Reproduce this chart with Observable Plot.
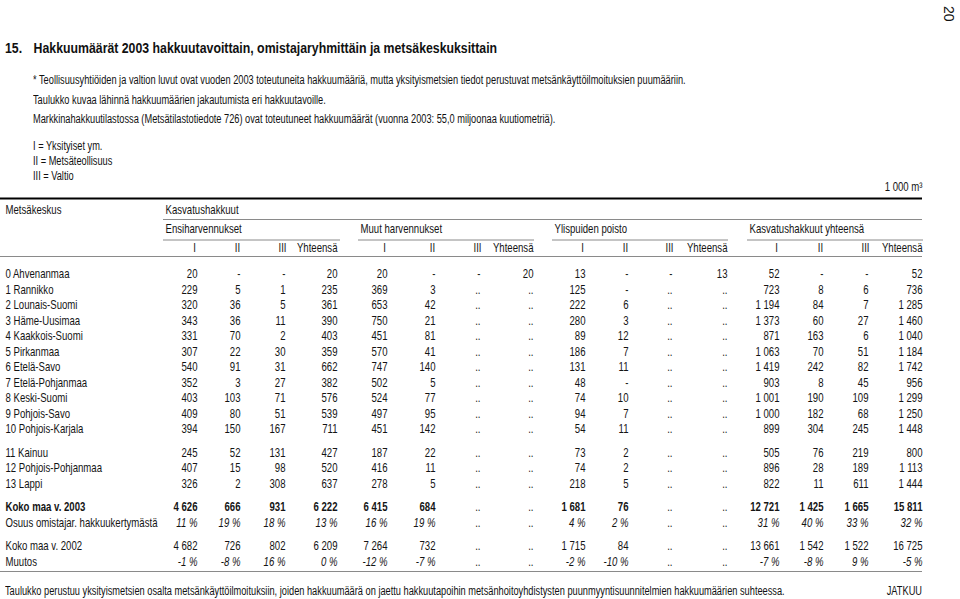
<!DOCTYPE html>
<html><head><meta charset="utf-8">
<script src="https://cdn.jsdelivr.net/npm/d3@7"></script>
<script src="https://cdn.jsdelivr.net/npm/@observablehq/plot@0.6"></script>
<style>
body{margin:0;background:#fff;}
#wrap{position:relative;width:960px;height:599px;overflow:hidden;background:#fff;color:#111;
 font-family:'Liberation Sans Narrow','Arial Narrow','Liberation Sans',Arial,sans-serif;}
.t{position:absolute;white-space:nowrap;line-height:14px;font-size:12px;transform:scaleX(0.77);transform-origin:left center;z-index:2;}
.r{transform-origin:right center;}
#chart{position:absolute;left:0;top:178px;z-index:1;}
</style></head>
<body><div id="wrap">
<div class="t" style="left:956px;top:6px;font-size:14px;transform:rotate(90deg);transform-origin:left top;">20</div>
<div class="t" style="left:5px;top:39px;font-size:15px;font-weight:bold;line-height:17px;transform:scaleX(0.82);">15.<span style="display:inline-block;width:14px"></span>Hakkuumäärät 2003 hakkuutavoittain, omistajaryhmittäin ja metsäkeskuksittain</div>
<div class="t" style="left:33px;top:73px;">* Teollisuusyhtiöiden ja valtion luvut ovat vuoden 2003 toteutuneita hakkuumääriä, mutta yksityismetsien tiedot perustuvat metsänkäyttöilmoituksien puumääriin.</div>
<div class="t" style="left:33px;top:93px;">Taulukko kuvaa lähinnä hakkuumäärien jakautumista eri hakkuutavoille.</div>
<div class="t" style="left:33px;top:112px;">Markkinahakkuutilastossa (Metsätilastotiedote 726) ovat toteutuneet hakkuumäärät (vuonna 2003: 55,0 miljoonaa kuutiometriä).</div>
<div class="t" style="left:33px;top:139px;">I = Yksityiset ym.</div>
<div class="t" style="left:33px;top:154px;">II = Metsäteollisuus</div>
<div class="t" style="left:33px;top:169px;">III = Valtio</div>
<div id="chart"></div>
<div class="t" style="left:5px;top:584px;">Taulukko perustuu yksityismetsien osalta metsänkäyttöilmoituksiin, joiden hakkuumäärä on jaettu hakkuutapoihin metsänhoitoyhdistysten puunmyyntisuunnitelmien hakkuumäärien suhteessa.</div>
<div class="t r" style="left:862px;top:584px;width:60px;text-align:right;">JATKUU</div>
</div>
<script>
// ---- data (0 = "-", null = "..") ----
const regions = ["0 Ahvenanmaa","1 Rannikko","2 Lounais-Suomi","3 Häme-Uusimaa","4 Kaakkois-Suomi","5 Pirkanmaa","6 Etelä-Savo","7 Etelä-Pohjanmaa","8 Keski-Suomi","9 Pohjois-Savo","10 Pohjois-Karjala","11 Kainuu","12 Pohjois-Pohjanmaa","13 Lappi"];
const ensiI   = [20,229,320,343,331,307,540,352,403,409,394,245,407,326];
const ensiII  = [0,5,36,36,70,22,91,3,103,80,150,52,15,2];
const ensiIII = [0,1,5,11,2,30,31,27,71,51,167,131,98,308];
const ensiYht = [20,235,361,390,403,359,662,382,576,539,711,427,520,637];
const muutI   = [20,369,653,750,451,570,747,502,524,497,451,187,416,278];
const muutII  = [0,3,42,21,81,41,140,5,77,95,142,22,11,5];
const muutIII = [0,null,null,null,null,null,null,null,null,null,null,null,null,null];
const muutYht = [20,null,null,null,null,null,null,null,null,null,null,null,null,null];
const yliI    = [13,125,222,280,89,186,131,48,74,94,54,73,74,218];
const yliII   = [0,0,6,3,12,7,11,0,10,7,11,2,2,5];
const yliIII  = [0,null,null,null,null,null,null,null,null,null,null,null,null,null];
const yliYht  = [13,null,null,null,null,null,null,null,null,null,null,null,null,null];
const khI     = [52,723,1194,1373,871,1063,1419,903,1001,1000,899,505,896,822];
const khII    = [0,8,84,60,163,70,242,8,190,182,304,76,28,11];
const khIII   = [0,6,7,27,6,51,82,45,109,68,245,219,189,611];
const khYht   = [52,736,1285,1460,1040,1184,1742,956,1299,1250,1448,800,1113,1444];

const total2003Label = "Koko maa v. 2003";
const total2003 = [4626,666,931,6222,6415,684,null,null,1681,76,null,null,12721,1425,1665,15811];
const shareLabel = "Osuus omistajar. hakkuukertymästä";
const share2003 = [11,19,18,13,16,19,null,null,4,2,null,null,31,40,33,32];
const total2002Label = "Koko maa v. 2002";
const total2002 = [4682,726,802,6209,7264,732,null,null,1715,84,null,null,13661,1542,1522,16725];
const changeLabel = "Muutos";
const change2002 = [-1,-8,16,0,-12,-7,null,null,-2,-10,null,null,-7,-8,9,-5];

const groupLabels = ["Ensiharvennukset","Muut harvennukset","Ylispuiden poisto","Kasvatushakkuut yhteensä"];
const colLabels = ["I","II","III","Yhteensä"];
const topHeader = ["Metsäkeskus","Kasvatushakkuut"];
const unitLabel = "1 000 m³";

// ---- layout ----
const svgTop = 178, H = 402;
const Y = v => v - svgTop;
const colRight = [197,240,285,337, 387,435,480,533, 585,628,672,727, 779,823,868,922];
const groupStart = [163,358,552,747];
const tableRight = 922;
const rowH = 15.5, blockGap = 8, firstRow = 274;
function rowY(k, block){ return Y(firstRow + k*rowH + block*blockGap); }

const fmtN = d3.formatLocale({thousands:" ", grouping:[3], decimal:",", currency:["",""]}).format(",d");
const fmt = v => v === null ? ".." : v === 0 ? "-" : fmtN(v);
const fmtP = v => v === null ? ".." : `${v} %`;

const regionCols = [ensiI,ensiII,ensiIII,ensiYht,muutI,muutII,muutIII,muutYht,yliI,yliII,yliIII,yliYht,khI,khII,khIII,khYht];

const labels = [], cells = [], boldCells = [], italCells = [], dotCells = [], boldLabels = [];
regions.forEach((r,i) => {
  const block = i <= 10 ? 0 : 1;
  const y = rowY(i, block);
  labels.push({x:5, y, t:r});
  regionCols.forEach((col,c) => cells.push({x:colRight[c], y, t:fmt(col[i])}));
});
const summary = [
  {label: total2003Label, vals: total2003, kind:"bold", k:14, block:2},
  {label: shareLabel, vals: share2003, kind:"pct", k:15, block:2},
  {label: total2002Label, vals: total2002, kind:"num", k:16, block:3},
  {label: changeLabel, vals: change2002, kind:"pct", k:17, block:3}
];
summary.forEach(s => {
  const y = rowY(s.k, s.block);
  (s.kind === "bold" ? boldLabels : labels).push({x:5, y, t:s.label});
  s.vals.forEach((v,c) => {
    const cell = {x:colRight[c], y, t: s.kind === "pct" ? fmtP(v) : fmt(v)};
    if (v === null) dotCells.push(cell);
    else if (s.kind === "bold") boldCells.push(cell);
    else if (s.kind === "pct") italCells.push(cell);
    else cells.push(cell);
  });
});

const headerCells = [];
groupLabels.forEach((g,gi) => colLabels.forEach((l,li) => {
  const c = gi*4+li;
  headerCells.push({x: li === 3 ? colRight[c] : colRight[c]-3, y: Y(248), t:l, anchor: li===3 ? "end":"middle"});
}));
const groupCells = groupLabels.map((g,gi) => ({x:groupStart[gi]+2, y:Y(229), t:g, x1:groupStart[gi], x2:colRight[gi*4+3]+(gi===0?3:1), ly:Y(239.5)}));
const singles = [
  {x:tableRight, y:Y(187), t:unitLabel, a:"end"},
  {x:5, y:Y(210), t:topHeader[0], a:"start"},
  {x:groupStart[0]+2, y:Y(210), t:topHeader[1], a:"start"}
];

const ink = "#141414";
const chart = Plot.plot({
  width: 960, height: H, margin: 0,
  x: {type:"identity", axis:null}, y: {type:"identity", axis:null},
  style: {fontFamily:"'Liberation Sans Narrow','Arial Narrow','Liberation Sans',Arial,sans-serif", fontSize:"12px", background:"transparent", overflow:"visible"},
  marks: [
    Plot.ruleY([Y(198)], {x1:0, x2:tableRight, stroke:"#000", strokeWidth:2}),
    Plot.ruleY([Y(219)], {x1:groupStart[0], x2:tableRight, stroke:"#8a8a8a", strokeWidth:1}),
    Plot.ruleY(groupCells, {y:"ly", x1:"x1", x2:"x2", stroke:"#8a8a8a", strokeWidth:1}),
    Plot.ruleY([Y(256)], {x1:0, x2:tableRight, stroke:"#8a8a8a", strokeWidth:1}),
    Plot.ruleY([Y(571)], {x1:0, x2:tableRight, stroke:"#8a8a8a", strokeWidth:1}),
    Plot.text(singles.filter(d=>d.a==="end"), {x:"x", y:"y", text:"t", textAnchor:"end", fill:ink}),
    Plot.text(singles.filter(d=>d.a==="start"), {x:"x", y:"y", text:"t", textAnchor:"start", fill:ink}),
    Plot.text(groupCells, {x:"x", y:"y", text:"t", textAnchor:"start", fill:ink}),
    Plot.text(headerCells.filter(d=>d.anchor==="middle"), {x:"x", y:"y", text:"t", textAnchor:"middle", fill:ink}),
    Plot.text(headerCells.filter(d=>d.anchor==="end"), {x:"x", y:"y", text:"t", textAnchor:"end", fill:ink}),
    Plot.text(labels, {x:"x", y:"y", text:"t", textAnchor:"start", fill:ink}),
    Plot.text(boldLabels, {x:"x", y:"y", text:"t", textAnchor:"start", fill:ink, fontWeight:"bold"}),
    Plot.text(cells, {x:"x", y:"y", text:"t", textAnchor:"end", fill:ink}),
    Plot.text(dotCells, {x:"x", y:"y", text:"t", textAnchor:"end", fill:ink}),
    Plot.text(boldCells, {x:"x", y:"y", text:"t", textAnchor:"end", fill:ink, fontWeight:"bold"}),
    Plot.text(italCells, {x:"x", y:"y", text:"t", textAnchor:"end", fill:ink, fontStyle:"italic"})
  ]
});
// condense glyphs horizontally (narrow typeface look), keeping each anchor in place
const isNum = s => s !== null && /^\s*-?[\d.]+(e-?\d+)?\s*$/.test(s);
chart.querySelectorAll("text").forEach(t => {
  const tr = t.getAttribute("transform") || "";
  let pre = tr;
  const xa = t.getAttribute("x");
  if (isNum(xa)) { pre = `translate(${+xa},0) ` + pre; t.removeAttribute("x"); }
  const ya = t.getAttribute("y");
  if (isNum(ya)) { pre = `translate(0,${+ya}) ` + pre; t.removeAttribute("y"); }
  t.setAttribute("transform", `${pre} scale(0.8,1)`.trim());
});
document.getElementById("chart").appendChild(chart);
</script>
</body></html>
